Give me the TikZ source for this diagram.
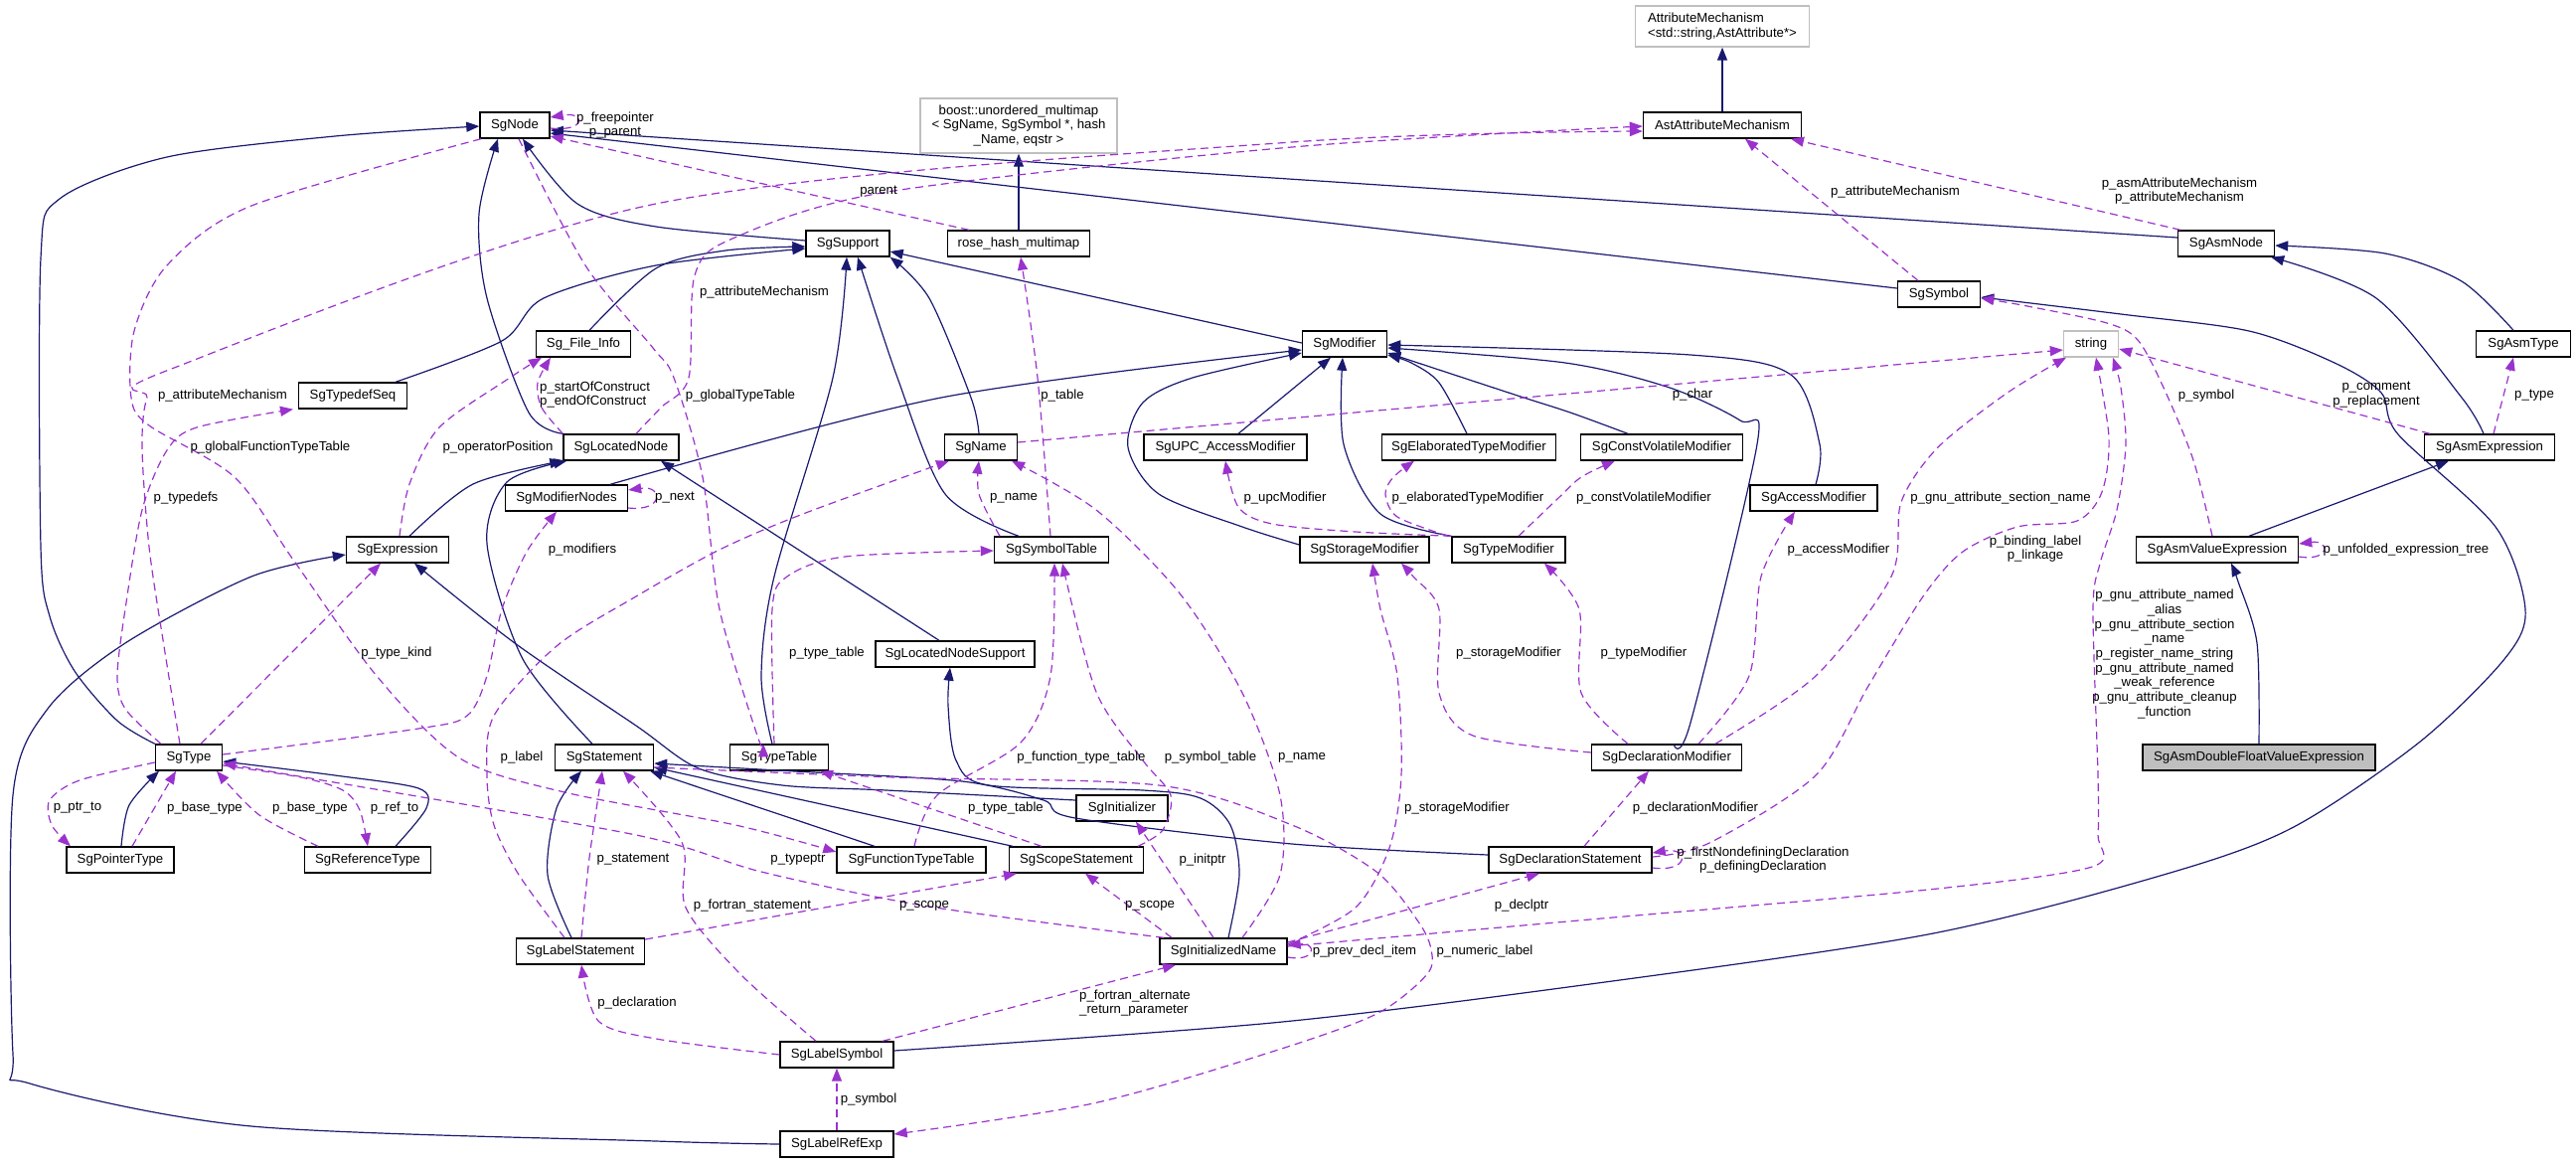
\documentclass[tikz,border=0pt]{standalone}
\usepackage{fontspec}
\setmainfont{Liberation Sans}
\usetikzlibrary{arrows.meta}
\definecolor{inhc}{HTML}{191970}
\definecolor{usec}{HTML}{9A32CD}
\definecolor{grey75}{HTML}{BFBFBF}
\begin{document}
\begin{tikzpicture}[x=1pt,y=-1pt,
 every node/.style={font=\fontsize{13.2}{14.7}\selectfont},
 box/.style={draw=black,line width=1.4pt,fill=white,minimum height=26pt,inner sep=0pt,align=center},
 gbox/.style={box,draw=grey75},
 inh/.style={draw=inhc,line width=1.2pt,-{Triangle[length=13pt,width=10pt]}},
 use/.style={draw=usec,line width=1.2pt,dash pattern=on 8pt off 5pt,-{Triangle[length=13pt,width=10pt]}},
 lbl/.style={inner sep=0pt,align=center},
 sm/.style={smooth,tension=0.5}
]
\useasboundingbox (0,0) rectangle (2592,1171);
% ---------------- nodes ----------------
\node[box,minimum width=70pt] (SgNode) at (518,126) {SgNode};
\node[gbox,minimum width=175pt,minimum height=41pt,align=left] (AttrMech) at (1733,26.5) {AttributeMechanism\\<std::string,AstAttribute*>};
\node[box,minimum width=159pt] (AstAttr) at (1733,126) {AstAttributeMechanism};
\node[gbox,minimum width=198pt,minimum height=55pt] (boost) at (1025,126.5) {boost::unordered\_multimap\\< SgName, SgSymbol *, hash\\\_Name, eqstr >};
\node[box,minimum width=84pt] (SgSupport) at (853,245) {SgSupport};
\node[box,minimum width=143pt] (rose) at (1025,245) {rose\_hash\_multimap};
\node[box,minimum width=97pt] (SgAsmNode) at (2240,245) {SgAsmNode};
\node[box,minimum width=83pt] (SgSymbol) at (1951,296) {SgSymbol};
\node[box,minimum width=95pt] (SgFileInfo) at (587,346) {Sg\_File\_Info};
\node[box,minimum width=85pt] (SgModifier) at (1353,346) {SgModifier};
\node[gbox,minimum width=55pt] (string) at (2104,346) {string};
\node[box,minimum width=95pt] (SgAsmType) at (2539,346) {SgAsmType};
\node[box,minimum width=109pt] (SgTypedefSeq) at (355,398) {SgTypedefSeq};
\node[box,minimum width=116pt] (SgLocatedNode) at (625,450) {SgLocatedNode};
\node[box,minimum width=73pt] (SgName) at (987,450) {SgName};
\node[box,minimum width=164pt] (SgUPC) at (1233,450) {SgUPC\_AccessModifier};
\node[box,minimum width=175pt] (SgElab) at (1478,450) {SgElaboratedTypeModifier};
\node[box,minimum width=163pt] (SgCV) at (1672,450) {SgConstVolatileModifier};
\node[box,minimum width=131pt] (SgAsmExpression) at (2505,450) {SgAsmExpression};
\node[box,minimum width=123pt] (SgModifierNodes) at (570,501) {SgModifierNodes};
\node[box,minimum width=128pt] (SgAccessModifier) at (1825,501) {SgAccessModifier};
\node[box,minimum width=103pt] (SgExpression) at (400,553) {SgExpression};
\node[box,minimum width=115pt] (SgSymbolTable) at (1058,553) {SgSymbolTable};
\node[box,minimum width=130pt] (SgStorageModifier) at (1373,553) {SgStorageModifier};
\node[box,minimum width=114pt] (SgTypeModifier) at (1518,553) {SgTypeModifier};
\node[box,minimum width=163pt] (SgAsmValueExpression) at (2231,553) {SgAsmValueExpression};
\node[box,minimum width=160pt] (SgLocatedNodeSupport) at (961,658) {SgLocatedNodeSupport};
\node[box,minimum width=67pt] (SgType) at (190,762) {SgType};
\node[box,minimum width=99pt] (SgStatement) at (608,762) {SgStatement};
\node[box,minimum width=99pt] (SgTypeTable) at (784,762) {SgTypeTable};
\node[box,minimum width=151pt] (SgDeclarationModifier) at (1677,762) {SgDeclarationModifier};
\node[box,minimum width=234pt,fill=grey75] (SgAsmDouble) at (2273,762) {SgAsmDoubleFloatValueExpression};
\node[box,minimum width=92pt] (SgInitializer) at (1129,813) {SgInitializer};
\node[box,minimum width=108pt] (SgPointerType) at (121,865) {SgPointerType};
\node[box,minimum width=127pt] (SgReferenceType) at (370,865) {SgReferenceType};
\node[box,minimum width=150pt] (SgFunctionTypeTable) at (917,865) {SgFunctionTypeTable};
\node[box,minimum width=135pt] (SgScopeStatement) at (1083,865) {SgScopeStatement};
\node[box,minimum width=164pt] (SgDeclarationStatement) at (1580,865) {SgDeclarationStatement};
\node[box,minimum width=129pt] (SgLabelStatement) at (584,957) {SgLabelStatement};
\node[box,minimum width=128pt] (SgInitializedName) at (1231,957) {SgInitializedName};
\node[box,minimum width=114pt] (SgLabelSymbol) at (842,1061) {SgLabelSymbol};
\node[box,minimum width=114pt] (SgLabelRefExp) at (842,1151) {SgLabelRefExp};
% ---------------- inheritance ----------------
\draw[inh] (AstAttr) -- (AttrMech);
\draw[inh] (rose) -- (boost);
\draw[inh] plot[sm] coordinates {([yshift=3pt]SgSupport.west) (660,228) (581,205) ([xshift=8pt]SgNode.south)};
\draw[inh] plot[sm] coordinates {(SgLocatedNode.north west) (532,415) (490,300) (482,215) ([xshift=-17pt]SgNode.south)};
\draw[inh] plot[sm] coordinates {(SgType.north west) (118,725) (75,675) (50,620) (41,550) (41,260) (60,200) (168,158) (337,137) ([yshift=-1pt]SgNode.west)};
\draw[inh] ([yshift=6pt]SgSymbol.west) -- ([yshift=-8pt]SgNode.east);
\draw[inh] ([yshift=6pt]SgAsmNode.west) -- ([yshift=-5pt]SgNode.east);
\draw[inh] plot[sm] coordinates {([xshift=-10pt]SgAsmType.north) (2477,283) (2400,255) ([yshift=-2pt]SgAsmNode.east)};
\draw[inh] plot[sm] coordinates {([xshift=-6pt]SgAsmExpression.north) (2477,400) (2391,300) ([xshift=-4pt]SgAsmNode.south east)};
\draw[inh] ([xshift=32pt]SgAsmValueExpression.north) -- ([xshift=-41pt]SgAsmExpression.south);
\draw[inh] plot[sm] coordinates {(SgAsmDouble.north) (2271,647) (2252,585) ([xshift=14pt]SgAsmValueExpression.south)};
\draw[inh] plot[sm] coordinates {([yshift=4pt]SgLabelSymbol.east) (1280,1029) (1600,990) (1940,940) (2177,880) (2306,833) (2434,747) (2520,663) (2541,613) (2511,530) (2413,437) (2396,395) (2349,365) (2263,333) (2134,316) ([yshift=-3pt]SgSymbol.east)};
\draw[inh] ([yshift=1pt]SgModifier.west) -- ([yshift=-8pt]SgSupport.east);
\draw[inh] plot[sm] coordinates {([xshift=-2pt]SgName.north) (977,400) (935,300) (SgSupport.south east)};
\draw[inh] plot[sm] coordinates {([xshift=-7pt]SgTypeTable.north) (766,680) (779,580) (838,380) ([xshift=-1pt]SgSupport.south)};
\draw[inh] plot[sm] coordinates {([xshift=-33pt]SgSymbolTable.north) (951,497) (903,380) ([xshift=10pt]SgSupport.south)};
\draw[inh] plot[sm] coordinates {([xshift=6pt]SgFileInfo.north) (660,270) (730,252) ([yshift=-3pt]SgSupport.west)};
\draw[inh] plot[sm] coordinates {([xshift=43pt]SgTypedefSeq.north) (505,343) (547,300) (660,267) ([yshift=-5pt]SgSupport.west)};
\draw[inh] plot[sm] coordinates {([xshift=44pt]SgModifierNodes.north) (947,400) ([yshift=-6pt]SgModifier.west)};
\draw[inh] plot[sm] coordinates {([yshift=5pt]SgStorageModifier.west) (1250,530) (1166,497) (1135,450) (1150,405) (1200,380) ([yshift=-9pt]SgModifier.west)};
\draw[inh] ([xshift=13pt]SgUPC.north) -- ([xshift=-14pt]SgModifier.south);
\draw[inh] plot[sm] coordinates {(SgTypeModifier.north west) (1389,517) (1352,447) ([xshift=-2pt]SgModifier.south)};
\draw[inh] plot[sm] coordinates {([xshift=-2pt]SgElab.north) (1448,385) (1420,365) ([yshift=-11pt]SgModifier.east)};
\draw[inh] plot[sm] coordinates {([xshift=-34pt]SgCV.north) (1580,415) (1524,397) ([yshift=-9pt]SgModifier.east)};
\draw[inh] plot[sm] coordinates {([xshift=7pt]SgDeclarationModifier.north) (1701,727) (1768,447) (1751,423) (1680,390) (1575,365) ([yshift=-4pt]SgModifier.east)};
\draw[inh] plot[sm] coordinates {([xshift=2pt]SgAccessModifier.north) (1831,447) (1802,377) (1701,357) ([yshift=-1pt]SgModifier.east)};
\draw[inh] plot[sm] coordinates {([xshift=12pt]SgExpression.north) (476,487) (SgLocatedNode.south west)};
\draw[inh] plot[sm] coordinates {([xshift=-12pt]SgStatement.north) (526,663) (490,547) (510,485) ([xshift=4pt]SgLocatedNode.south west)};
\draw[inh] ([xshift=-16pt]SgLocatedNodeSupport.north) -- ([xshift=40pt]SgLocatedNode.south);
\draw[inh] plot[sm] coordinates {([xshift=5pt]SgInitializedName.north) (1247,880) (1238,830) (1208,803) (1150,795) (995,790) (962,765) (954,710) ([xshift=-5pt]SgLocatedNodeSupport.south)};
\draw[inh] plot[sm] coordinates {([yshift=8pt]SgInitializer.west) (892,795) (787,790) (703,773) (640,730) (518,647) ([xshift=17pt]SgExpression.south)};
\draw[inh] plot[sm] coordinates {(SgLabelRefExp.west) (660,1148) (253,1133) (30,1090) (13,1060) (13,800) (48,713) (126,647) (253,580) ([yshift=-5pt]SgExpression.west)};
\draw[inh] plot[sm] coordinates {([xshift=-9pt]SgLabelStatement.north) (551,880) (560,813) ([xshift=-23pt]SgStatement.south)};
\draw[inh] ([xshift=-37pt]SgFunctionTypeTable.north) -- ([xshift=-4pt]SgStatement.south east);
\draw[inh] ([xshift=-64pt]SgScopeStatement.north) -- ([yshift=-10pt]SgStatement.east);
\draw[inh] plot[sm] coordinates {([yshift=5pt]SgDeclarationStatement.west) (1300,849) (1082,823) (1050,805) (968,786) (800,776) ([yshift=-6pt]SgStatement.east)};
\draw[inh] plot[sm] coordinates {([xshift=1pt]SgPointerType.north) (130,810) ([xshift=-30pt]SgType.south)};
\draw[inh] plot[sm] coordinates {([xshift=28pt]SgReferenceType.north) (429,813) (421,793) (337,780) ([yshift=-4pt]SgType.east)};
% ---------------- usage ----------------
\draw[use] ([yshift=-3pt]SgNode.east) .. controls (590,133) and (590,112) .. ([yshift=8pt]SgNode.east);
\draw[use] ([xshift=-50pt]rose.north) -- ([yshift=-11pt]SgNode.east);
\draw[use] plot[sm] coordinates {([xshift=-9pt]SgType.north) (165,650) (150,550) (143,450) (148,400) (170,372) (660,205) (1300,143) ([yshift=-6pt]AstAttr.west)};
\draw[use] plot[sm] coordinates {([xshift=15pt]SgLocatedNode.north) (665,410) (693,380) (699,277) (737,240) (893,193) (1300,148) ([yshift=-1pt]AstAttr.west)};
\draw[use] plot[sm] coordinates {(SgLocatedNode.north west) (545,410) (541,385) ([xshift=-33pt]SgFileInfo.south)};
\draw[use] plot[sm] coordinates {([xshift=2pt]SgExpression.north) (412,487) (442,430) (513,380) ([xshift=-42pt]SgFileInfo.south)};
\draw[use] plot[sm] coordinates {([xshift=-28pt]SgType.north) (126,713) (118,680) (126,613) (143,513) (168,453) (198,430) ([xshift=-60pt]SgTypedefSeq.south)};
\draw[use] plot[sm] coordinates {([xshift=-34pt]SgNode.south) (253,207) (168,267) (135,333) (132,400) (150,428) (236,480) (295,563) (379,680) (463,763) (568,797) (740,830) ([yshift=8pt]SgFunctionTypeTable.west)};
\draw[use] plot[sm] coordinates {([xshift=4pt]SgNode.south) (589,267) (657,350) (678,380) (707,480) (724,613) (762,740) ([xshift=-16pt]SgTypeTable.north)};
\draw[use] plot[sm] coordinates {([yshift=3pt]SgType.east) (421,733) (470,720) (490,680) (505,613) (530,555) ([xshift=-10pt]SgModifierNodes.south)};
\draw[use] ([xshift=12pt]SgType.north) -- ([xshift=-17pt]SgExpression.south);
\draw[use] ([yshift=-10pt]SgModifierNodes.east) .. controls (668,515) and (668,488) .. ([yshift=8pt]SgModifierNodes.east);
\draw[use] plot[sm] coordinates {([yshift=-5pt]SgType.west) (80,785) (50,805) (52,830) ([xshift=-50pt]SgPointerType.north)};
\draw[use] ([xshift=12pt]SgPointerType.north) -- ([xshift=-13pt]SgType.south);
\draw[use] plot[sm] coordinates {([xshift=-50pt]SgReferenceType.north) (261,820) ([xshift=28pt]SgType.south)};
\draw[use] plot[sm] coordinates {([yshift=-8pt]SgType.east) (303,782) (345,795) (362,815) (SgReferenceType.north)};
\draw[use] plot[sm] coordinates {([xshift=-60pt]SgInitializedName.north) (935,912) (766,877) (640,840) (295,780) ([yshift=-6pt]SgType.east)};
\draw[use] ([xshift=-52pt]SgInitializedName.north) -- ([xshift=9pt]SgScopeStatement.south);
\draw[use] ([yshift=12pt]SgLabelStatement.east) -- ([xshift=-60pt]SgScopeStatement.south);
\draw[use] ([xshift=-10pt]SgInitializedName.north) -- ([xshift=14pt]SgInitializer.south);
\draw[use] ([yshift=9pt]SgInitializedName.east) -- ([xshift=-31pt]SgDeclarationStatement.south);
\draw[use] ([yshift=-6pt]SgInitializedName.east) .. controls (1325,968) and (1325,948) .. ([yshift=6pt]SgInitializedName.east);
\draw[use] plot[sm] coordinates {([yshift=7pt]SgInitializedName.east) (1364,913) (1398,853) (1410,780) (1406,680) (1389,613) ([xshift=8pt]SgStorageModifier.south)};
\draw[use] plot[sm] coordinates {([yshift=5pt]SgInitializedName.east) (1600,925) (1940,895) (2105,872) (2111,840) (2111,780) (2106,613) (2113,567) (2130,513) (2139,447) (2134,390) ([xshift=22pt]string.south)};
\draw[use] ([xshift=14pt]SgDeclarationStatement.north) -- ([xshift=-18pt]SgDeclarationModifier.south);
\draw[use] ([yshift=-8pt]SgDeclarationStatement.east) .. controls (1700,878) and (1700,852) .. ([yshift=7pt]SgDeclarationStatement.east);
\draw[use] plot[sm] coordinates {([yshift=3pt]SgDeclarationStatement.east) (1720,848) (1827,780) (1880,690) (1935,600) (1975,555) (2030,530) (2090,524) (2115,495) (2122,440) ([xshift=5pt]string.south)};
\draw[use] plot[sm] coordinates {([xshift=49pt]SgDeclarationModifier.north) (1827,680) (1903,580) (1913,505) (1950,450) (2020,395) ([xshift=-25pt]string.south)};
\draw[use] plot[sm] coordinates {([yshift=5pt]SgDeclarationModifier.west) (1482,740) (1448,697) (1448,613) (1422,580) ([xshift=37pt]SgStorageModifier.south)};
\draw[use] plot[sm] coordinates {([xshift=-39pt]SgDeclarationModifier.north) (1591,697) (1589,613) ([xshift=36pt]SgTypeModifier.south)};
\draw[use] plot[sm] coordinates {([xshift=32pt]SgDeclarationModifier.north) (1760,680) (1772,580) ([xshift=-19pt]SgAccessModifier.south)};
\draw[use] ([yshift=5pt]SgName.east) -- ([yshift=-6pt]string.west);
\draw[use] ([xshift=-21pt]SgSymbol.north) -- ([xshift=23pt]AstAttr.south);
\draw[use] ([xshift=-46pt]SgAsmNode.north) -- ([xshift=69pt]AstAttr.south);
\draw[use] plot[sm] coordinates {([xshift=-5pt]SgAsmValueExpression.north) (2207,463) (2177,390) (2151,342) (2120,325) (2040,308) ([yshift=-4pt]SgSymbol.east)};
\draw[use] ([xshift=-60pt]SgAsmExpression.north) -- ([yshift=-5pt]string.east);
\draw[use] ([xshift=4pt]SgAsmExpression.north) -- ([xshift=-10pt]SgAsmType.south);
\draw[use] ([yshift=-7pt]SgAsmValueExpression.east) .. controls (2345,565) and (2345,543) .. ([yshift=6pt]SgAsmValueExpression.east);
\draw[use] plot[sm] coordinates {([xshift=-1pt]SgSymbolTable.north) (1044,380) ([xshift=2pt]rose.south)};
\draw[use] plot[sm] coordinates {([xshift=-52pt]SgSymbolTable.north) (985,497) ([xshift=-2pt]SgName.south)};
\draw[use] plot[sm] coordinates {([xshift=19pt]SgInitializedName.north) (1288,880) (1288,800) (1250,697) (1187,597) (1103,513) ([xshift=31pt]SgName.south)};
\draw[use] plot[sm] coordinates {([xshift=62pt]SgScopeStatement.north) (1170,835) (1178,800) (1150,765) (1103,696) ([xshift=11pt]SgSymbolTable.south)};
\draw[use] plot[sm] coordinates {([xshift=3pt]SgFunctionTypeTable.north) (943,800) (1027,747) (1057,680) ([xshift=3pt]SgSymbolTable.south)};
\draw[use] plot[sm] coordinates {([xshift=-5pt]SgTypeTable.north) (777,613) (792,580) (850,560) ([yshift=-1pt]SgSymbolTable.west)};
\draw[use] ([xshift=-35pt]SgScopeStatement.north) -- ([xshift=41pt]SgTypeTable.south);
\draw[use] plot[sm] coordinates {([xshift=-21pt]SgLabelSymbol.north) (745,980) (690,913) (686,847) ([xshift=19pt]SgStatement.south)};
\draw[use] plot[sm] coordinates {([xshift=1pt]SgLabelStatement.north) (593,863) ([xshift=-2pt]SgStatement.south)};
\draw[use] plot[sm] coordinates {(SgLabelSymbol.west) (660,1045) (602,1027) ([xshift=1pt]SgLabelStatement.south)};
\draw[use] ([xshift=46pt]SgLabelSymbol.north) -- ([xshift=-48pt]SgInitializedName.south);
\draw[use] (SgLabelRefExp) -- (SgLabelSymbol);
\draw[use] plot[sm] coordinates {([yshift=-10pt]SgStatement.east) (900,782) (1166,790) (1300,830) (1385,877) (1427,927) (1440,955) (1436,980) (1385,1020) (1280,1058) (1100,1110) ([yshift=10pt]SgLabelRefExp.east)};
\draw[use] plot[sm] coordinates {([xshift=-16pt]SgLabelStatement.north) (522,880) (497,830) (490,780) (497,720) (560,650) (640,600) (724,553) (808,517) ([xshift=-32pt]SgName.south)};
\draw[use] plot[sm] coordinates {(SgTypeModifier.north west) (1364,535) (1280,527) (1246,510) (SgUPC.south)};
\draw[use] plot[sm] coordinates {([xshift=-3pt]SgTypeModifier.north west) (1406,520) (1394,497) (1402,480) ([xshift=-55pt]SgElab.south)};
\draw[use] plot[sm] coordinates {([xshift=10pt]SgTypeModifier.north) (1566,503) (1591,480) ([xshift=-47pt]SgCV.south)};
% ---------------- labels ----------------
\node[lbl] (l1) at (619,126) {p\_freepointer\\p\_parent};
\node[lbl] (l2) at (884,193) {parent};
\node[lbl] (l3) at (224,398) {p\_attributeMechanism};
\node[lbl] (l4) at (769,294) {p\_attributeMechanism};
\node[lbl,align=left,anchor=west] (l5) at (543,397) {p\_startOfConstruct\\p\_endOfConstruct};
\node[lbl] (l6) at (501,450) {p\_operatorPosition};
\node[lbl] (l7) at (187,501) {p\_typedefs};
\node[lbl] (l8) at (272,450) {p\_globalFunctionTypeTable};
\node[lbl] (l9) at (745,398) {p\_globalTypeTable};
\node[lbl] (l10) at (586,553) {p\_modifiers};
\node[lbl] (l11) at (399,657) {p\_type\_kind};
\node[lbl] (l12) at (679,501) {p\_next};
\node[lbl] (l13) at (78,813) {p\_ptr\_to};
\node[lbl] (l14) at (206,813) {p\_base\_type};
\node[lbl] (l15) at (312,813) {p\_base\_type};
\node[lbl] (l16) at (397,813) {p\_ref\_to};
\node[lbl] (l17) at (803,865) {p\_typeptr};
\node[lbl] (l18) at (1157,911) {p\_scope};
\node[lbl] (l19) at (930,911) {p\_scope};
\node[lbl] (l20) at (1210,865) {p\_initptr};
\node[lbl] (l21) at (1531,911) {p\_declptr};
\node[lbl] (l22) at (1373,957) {p\_prev\_decl\_item};
\node[lbl] (l23) at (1466,813) {p\_storageModifier};
\node[lbl] (l24) at (2178,658) {p\_gnu\_attribute\_named\\\_alias\\p\_gnu\_attribute\_section\\\_name\\p\_register\_name\_string\\p\_gnu\_attribute\_named\\\_weak\_reference\\p\_gnu\_attribute\_cleanup\\\_function};
\node[lbl] (l25) at (1706,813) {p\_declarationModifier};
\node[lbl] (l26) at (1774,865) {p\_firstNondefiningDeclaration\\p\_definingDeclaration};
\node[lbl] (l27) at (2048,552) {p\_binding\_label\\p\_linkage};
\node[lbl] (l28) at (2013,501) {p\_gnu\_attribute\_section\_name};
\node[lbl] (l29) at (1518,657) {p\_storageModifier};
\node[lbl] (l30) at (1654,657) {p\_typeModifier};
\node[lbl] (l31) at (1850,553) {p\_accessModifier};
\node[lbl] (l32) at (1703,397) {p\_char};
\node[lbl] (l33) at (1907,193) {p\_attributeMechanism};
\node[lbl] (l34) at (2193,192) {p\_asmAttributeMechanism\\p\_attributeMechanism};
\node[lbl] (l35) at (2220,398) {p\_symbol};
\node[lbl] (l36) at (2391,397) {p\_comment\\p\_replacement};
\node[lbl] (l37) at (2550,398) {p\_type};
\node[lbl] (l38) at (2421,553) {p\_unfolded\_expression\_tree};
\node[lbl] (l39) at (1069,398) {p\_table};
\node[lbl] (l40) at (1020,501) {p\_name};
\node[lbl] (l41) at (1310,762) {p\_name};
\node[lbl] (l42) at (1218,762) {p\_symbol\_table};
\node[lbl] (l43) at (1088,762) {p\_function\_type\_table};
\node[lbl] (l44) at (832,657) {p\_type\_table};
\node[lbl] (l45) at (1012,813) {p\_type\_table};
\node[lbl] (l46) at (757,911) {p\_fortran\_statement};
\node[lbl] (l47) at (637,865) {p\_statement};
\node[lbl] (l48) at (641,1009) {p\_declaration};
\node[lbl,align=left] (l49) at (1142,1009) {p\_fortran\_alternate\\\_return\_parameter};
\node[lbl] (l50) at (874,1106) {p\_symbol};
\node[lbl] (l51) at (1494,957) {p\_numeric\_label};
\node[lbl] (l52) at (525,762) {p\_label};
\node[lbl] (l53) at (1293,501) {p\_upcModifier};
\node[lbl] (l54) at (1477,501) {p\_elaboratedTypeModifier};
\node[lbl] (l55) at (1654,501) {p\_constVolatileModifier};
\end{tikzpicture}
\end{document}
